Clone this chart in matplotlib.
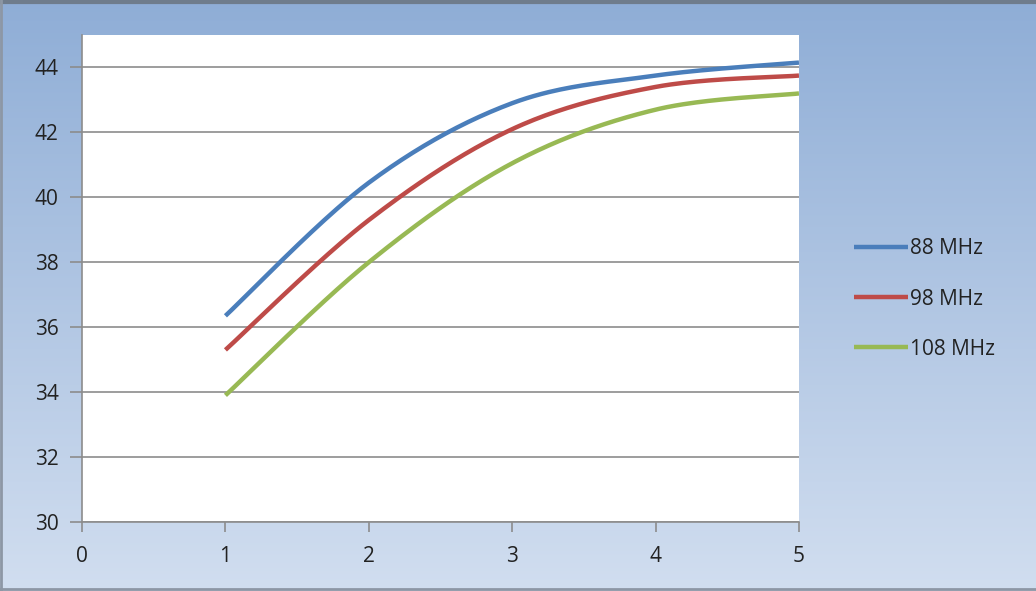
import numpy as np
import matplotlib.pyplot as plt

# data
x_vals = [1, 2, 3, 4, 5]
y_88 = [36.35, 40.45, 42.9, 43.75, 44.15]
y_98 = [35.3, 39.3, 42.1, 43.4, 43.75]
y_108 = [33.9, 38.0, 41.05, 42.7, 43.2]
labels = ["88 MHz", "98 MHz", "108 MHz"]
colors = ["#4a7ebb", "#be4b48", "#98b954"]


def smooth(xs, ys, n=40):
    # Excel-like smoothed line: cubic bezier through points, catmull-rom tangents
    xs = np.asarray(xs, float)
    ys = np.asarray(ys, float)
    px = np.concatenate([[xs[0]], xs, [xs[-1]]])
    py = np.concatenate([[ys[0]], ys, [ys[-1]]])
    outx, outy = [], []
    t = np.linspace(0, 1, n)
    for i in range(1, len(px) - 2):
        p0 = np.array([px[i], py[i]])
        p3 = np.array([px[i + 1], py[i + 1]])
        p1 = p0 + (np.array([px[i + 1], py[i + 1]]) - np.array([px[i - 1], py[i - 1]])) / 6
        p2 = p3 - (np.array([px[i + 2], py[i + 2]]) - np.array([px[i], py[i]])) / 6
        b = ((1 - t) ** 3)[:, None] * p0 + (3 * (1 - t) ** 2 * t)[:, None] * p1 \
            + (3 * (1 - t) * t ** 2)[:, None] * p2 + (t ** 3)[:, None] * p3
        outx.extend(b[:, 0])
        outy.extend(b[:, 1])
    return outx, outy


plt.rcParams['font.family'] = ['Open Sans', 'DejaVu Sans']

fig = plt.figure(figsize=(10.36, 5.91), dpi=100)

# gradient background
bg = fig.add_axes([0, 0, 1, 1], zorder=0)
grad = np.linspace(0, 1, 256)[:, None]
top = np.array([0.56, 0.68, 0.84])
bot = np.array([0.82, 0.87, 0.94])
img = top[None, None, :] * (1 - grad[:, :, None]) + bot[None, None, :] * grad[:, :, None]
bg.imshow(img, aspect='auto', extent=[0, 1, 0, 1])
bg.set_xlim(0, 1)
bg.set_ylim(0, 1)
bg.axis('off')
bg.plot([0, 1], [0.996, 0.996], color="#6f7c8c", lw=3)
bg.plot([0.001, 0.001], [0, 1], color="#8d97a5", lw=2)
bg.plot([0, 1], [0.003, 0.003], color="#8d97a5", lw=2)

ax = fig.add_axes([0.0792, 0.1168, 0.692, 0.824], zorder=1)
ax.set_facecolor("white")

for ys, lab, c in zip([y_88, y_98, y_108], labels, colors):
    sx, sy = smooth(x_vals, ys)
    ax.plot(sx, sy, color=c, lw=3.2, label=lab, solid_capstyle='butt')

ax.set_xlim(0, 5)
ax.set_ylim(30, 45)
ax.set_xticks(range(0, 6))
ax.set_yticks(range(30, 45, 2))
ax.grid(axis='y', color="#8c8c8c", lw=1.2)
ax.set_axisbelow(True)
for side in ['top', 'right']:
    ax.spines[side].set_visible(False)
ax.spines['left'].set_color("#8c8c8c")
ax.spines['bottom'].set_color("#8c8c8c")
ax.spines['left'].set_linewidth(1.2)
ax.spines['bottom'].set_linewidth(1.2)
ax.tick_params(axis='y', length=9, width=1.2, color="#8c8c8c", labelsize=15,
               labelcolor="#222222", pad=8)
ax.tick_params(axis='x', length=7, width=1.2, color="#8c8c8c", labelsize=15,
               labelcolor="#222222", pad=10)

fig.legend(loc='center left', bbox_to_anchor=(0.806, 0.494), frameon=False,
           fontsize=15, handlelength=2.6, handletextpad=0.1, labelspacing=1.4,
           labelcolor="#222222")

fig.savefig("out.png", dpi=100)
